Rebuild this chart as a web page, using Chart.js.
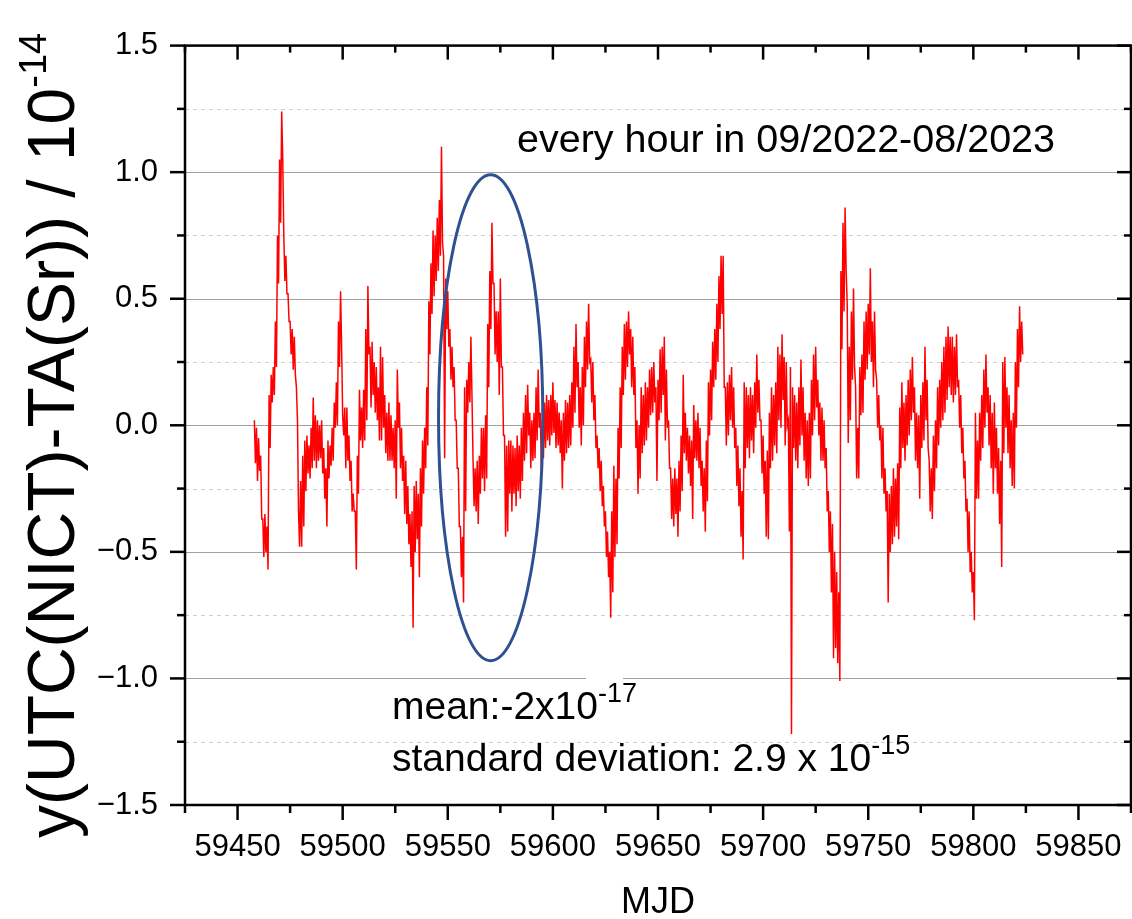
<!DOCTYPE html>
<html>
<head>
<meta charset="utf-8">
<script src="https://cdn.jsdelivr.net/npm/chart.js@4.4.0/dist/chart.umd.min.js"></script>
<style>
  html, body { margin: 0; padding: 0; background: #fff; }
  canvas { display: block; }
</style>
</head>
<body>
<canvas id="myChart" width="1132" height="919"></canvas>
<script>
const mjdStart = 59458;
const dailyHigh = [
  0.02, -0.01, -0.05, -0.12, -0.37, -0.35, -0.40, 0.12, 0.20, 0.23,
  0.41, 0.75, 1.05, 1.24, 0.75, 0.67, 0.52, 0.41, 0.38, 0.35,
  0.15, -0.34, -0.22, -0.12, -0.06, -0.04, -0.08, -0.01, 0.11, 0.04,
  0.02, 0.00, 0.02, -0.09, -0.17, -0.06, -0.08, -0.01, 0.09, 0.17,
  0.41, 0.53, 0.04, 0.07, 0.07, -0.04, -0.14, -0.27, -0.34, -0.12,
  0.14, 0.07, 0.14, 0.38, 0.55, 0.31, 0.33, 0.25, 0.23, 0.15,
  0.31, 0.27, 0.12, 0.05, 0.09, 0.04, -0.01, 0.02, 0.22, 0.09,
  -0.01, -0.12, -0.14, -0.24, -0.35, -0.34, -0.24, -0.22, -0.27, -0.17,
  -0.06, -0.01, 0.15, 0.49, 0.64, 0.77, 0.75, 0.82, 0.89, 1.10,
  0.67, 0.58, 0.53, 0.38, 0.31, 0.23, 0.02, -0.17, -0.40, -0.44,
  0.15, 0.18, 0.25, 0.35, -0.13, -0.17, -0.14, -0.12, -0.01, -0.01,
  0.04, 0.40, 0.61, 0.80, 0.56, 0.45, 0.45, 0.58, 0.23, -0.04,
  -0.08, -0.06, -0.06, -0.08, -0.09, -0.04, -0.08, -0.01, 0.05, 0.12,
  0.16, 0.05, 0.02, 0.05, 0.15, 0.22, 0.05, 0.02, 0.09, 0.12,
  0.10, 0.12, 0.17, 0.10, 0.09, 0.05, 0.02, 0.05, 0.10, 0.09,
  0.12, 0.17, 0.31, 0.40, 0.25, 0.15, 0.23, 0.35, 0.41, 0.48,
  0.26, 0.25, 0.12, -0.04, -0.09, -0.14, -0.24, -0.34, -0.42, -0.50,
  -0.34, -0.16, -0.21, -0.01, 0.15, 0.31, 0.40, 0.41, 0.45, 0.38,
  0.35, 0.23, 0.02, 0.00, 0.15, 0.12, 0.17, 0.15, 0.22, 0.23,
  0.25, 0.15, 0.18, 0.30, 0.31, 0.35, 0.22, 0.02, -0.17, -0.21,
  -0.17, -0.21, -0.14, -0.04, 0.20, 0.05, -0.01, -0.04, -0.06, 0.08,
  0.02, 0.05, -0.01, -0.14, -0.17, -0.06, 0.17, 0.22, 0.33, 0.38,
  0.48, 0.59, 0.67, 0.67, 0.15, 0.17, 0.20, 0.23, 0.15, -0.01,
  -0.08, -0.17, -0.26, 0.17, 0.15, 0.12, 0.15, 0.12, 0.17, 0.28,
  0.18, 0.02, -0.04, -0.14, -0.10, 0.05, 0.15, 0.12, 0.17, 0.31,
  0.28, 0.36, 0.27, 0.25, 0.02, 0.23, 0.15, 0.12, 0.09, 0.15,
  0.26, 0.15, 0.05, 0.02, 0.05, 0.18, 0.28, 0.31, 0.18, 0.09,
  0.07, 0.02, -0.09, -0.26, -0.34, -0.39, -0.50, -0.58, -0.66, 0.61,
  0.80, 0.86, 0.48, 0.31, 0.45, 0.54, 0.15, -0.01, 0.23, 0.28,
  0.41, 0.45, 0.48, 0.62, 0.41, 0.45, 0.18, 0.12, 0.00, -0.01,
  -0.17, -0.26, -0.27, -0.24, -0.17, -0.21, -0.15, 0.07, 0.17, 0.09,
  0.12, 0.18, 0.22, 0.27, 0.15, 0.05, 0.04, 0.12, 0.17, 0.31,
  0.18, -0.14, -0.17, -0.04, 0.02, 0.15, 0.18, 0.25, 0.31, 0.35,
  0.39, 0.35, 0.35, 0.31, 0.36, 0.18, 0.12, -0.01, -0.14, -0.29,
  -0.34, -0.50, -0.58, 0.05, -0.06, 0.05, 0.12, 0.22, 0.28, 0.15,
  0.12, 0.05, 0.09, -0.01, -0.09, -0.14, 0.25, 0.27, 0.15, 0.12,
  0.02, 0.05, 0.25, 0.38, 0.47, 0.41
];
const dailyLow = [
  -0.15, -0.22, -0.18, -0.37, -0.52, -0.50, -0.57, -0.09, 0.09, 0.12,
  0.23, 0.56, 0.80, 1.05, 0.57, 0.52, 0.41, 0.28, 0.22, 0.20,
  0.02, -0.48, -0.48, -0.40, -0.26, -0.19, -0.21, -0.17, -0.14, -0.17,
  -0.14, -0.13, -0.19, -0.29, -0.40, -0.21, -0.16, -0.14, -0.01, 0.00,
  0.23, 0.31, -0.04, -0.17, -0.14, -0.22, -0.34, -0.34, -0.57, -0.27,
  -0.06, -0.09, -0.06, 0.02, 0.28, 0.07, 0.12, 0.05, 0.02, -0.06,
  -0.06, -0.01, -0.11, -0.14, -0.14, -0.14, -0.17, -0.29, -0.01, -0.17,
  -0.22, -0.35, -0.39, -0.47, -0.56, -0.80, -0.50, -0.45, -0.60, -0.40,
  -0.27, -0.17, -0.08, 0.28, 0.44, 0.51, 0.57, 0.61, 0.67, 0.72,
  -0.13, 0.38, 0.31, 0.18, 0.15, 0.02, -0.17, -0.40, -0.60, -0.70,
  -0.34, 0.05, 0.09, 0.12, -0.32, -0.34, -0.39, -0.27, -0.21, -0.26,
  -0.21, 0.15, 0.38, 0.56, 0.28, 0.25, 0.12, 0.23, -0.04, -0.44,
  -0.42, -0.27, -0.34, -0.27, -0.32, -0.26, -0.29, -0.22, -0.14, -0.11,
  -0.04, -0.17, -0.14, -0.13, -0.06, -0.01, -0.17, -0.13, -0.09, -0.06,
  -0.08, -0.04, -0.03, -0.09, -0.08, -0.11, -0.25, -0.14, -0.11, -0.09,
  -0.08, -0.01, 0.05, 0.15, -0.01, -0.08, 0.00, 0.15, 0.22, 0.25,
  0.09, 0.02, -0.09, -0.17, -0.26, -0.32, -0.40, -0.52, -0.60, -0.76,
  -0.66, -0.52, -0.47, -0.21, -0.09, 0.12, 0.18, 0.23, 0.28, 0.15,
  0.12, -0.09, -0.27, -0.21, -0.11, -0.08, -0.06, -0.01, 0.04, 0.05,
  0.09, -0.22, 0.02, 0.05, 0.12, -0.06, -0.01, -0.17, -0.37, -0.40,
  -0.35, -0.44, -0.34, -0.26, -0.11, -0.14, -0.19, -0.24, -0.37, -0.13,
  -0.14, -0.17, -0.24, -0.34, -0.42, -0.30, -0.04, 0.02, 0.15, 0.18,
  0.25, 0.38, 0.44, 0.15, -0.08, -0.04, 0.02, -0.01, -0.09, -0.24,
  -0.32, -0.44, -0.53, -0.17, -0.09, -0.13, -0.06, -0.11, -0.01, 0.05,
  0.02, -0.19, -0.27, -0.44, -0.45, -0.17, -0.14, -0.08, -0.11, 0.02,
  -0.01, 0.10, -0.08, 0.00, -0.42, -1.22, -0.09, -0.14, -0.17, -0.08,
  -0.04, -0.14, -0.21, -0.24, -0.21, -0.04, 0.02, 0.07, -0.04, -0.14,
  -0.14, -0.17, -0.34, -0.50, -0.66, -0.92, -0.88, -0.94, -1.01, 0.30,
  0.45, 0.61, -0.07, 0.02, 0.18, 0.23, -0.21, -0.21, 0.04, 0.05,
  0.18, 0.22, 0.28, 0.25, 0.15, 0.22, -0.01, -0.06, -0.21, -0.27,
  -0.34, -0.70, -0.50, -0.47, -0.44, -0.40, -0.45, -0.17, -0.09, -0.14,
  -0.08, -0.04, 0.02, 0.05, -0.14, -0.17, -0.29, -0.09, -0.06, 0.02,
  -0.09, -0.34, -0.37, -0.26, -0.17, -0.08, -0.01, 0.02, 0.05, 0.10,
  0.15, 0.12, 0.09, 0.12, 0.15, -0.01, -0.11, -0.21, -0.34, -0.50,
  -0.58, -0.66, -0.77, -0.29, -0.29, -0.14, -0.09, -0.01, 0.05, -0.08,
  -0.17, -0.27, -0.17, -0.27, -0.39, -0.56, -0.11, -0.01, -0.11, -0.17,
  -0.24, -0.25, -0.01, 0.15, 0.25, 0.28
];

// axis ticks
const xMajor = [59450, 59500, 59550, 59600, 59650, 59700, 59750, 59800, 59850];
const xMinor = [59425, 59475, 59525, 59575, 59625, 59675, 59725, 59775, 59825, 59875];
const yMajor = [-1.5, -1.0, -0.5, 0.0, 0.5, 1.0, 1.5];
const yMinor = [-1.25, -0.75, -0.25, 0.25, 0.75, 1.25];

// circled region (MJD centre, value centre, half-width in days, half-height)
const ellipseMjd = 59570.4;
const ellipseVal = 0.03;
const ellipseHalfDays = 24.8;
const ellipseHalfVal = 0.96;

const FONT = "'Liberation Sans', Arial, sans-serif";

const points = [];
dailyHigh.forEach((h, i) => {
    points.push({ x: mjdStart + i, y: h });
    points.push({ x: mjdStart + i + 0.5, y: dailyLow[i] });
});

function textWithSup(ctx, x, y, main, sup, size, supSize, rise) {
    ctx.font = size + 'px ' + FONT;
    ctx.fillText(main, x, y);
    const w = ctx.measureText(main).width;
    ctx.font = supSize + 'px ' + FONT;
    ctx.fillText(sup, x + w, y - rise);
}

const decor = {
    id: 'decor',
    beforeDatasetsDraw(chart) {
        const { ctx, chartArea: a, scales: { y } } = chart;
        ctx.save();
        ctx.lineWidth = 1;
        ctx.strokeStyle = '#cfcfcf';
        ctx.setLineDash([4, 4]);
        yMinor.forEach(v => {
            const py = Math.round(y.getPixelForValue(v)) + 0.5;
            ctx.beginPath(); ctx.moveTo(a.left, py); ctx.lineTo(a.right, py); ctx.stroke();
        });
        ctx.setLineDash([]);
        ctx.strokeStyle = '#a0a0a0';
        yMajor.slice(1, -1).forEach(v => {
            const py = Math.round(y.getPixelForValue(v)) + 0.5;
            ctx.beginPath(); ctx.moveTo(a.left, py); ctx.lineTo(a.right, py); ctx.stroke();
        });
        ctx.restore();
    },
    afterDraw(chart) {
        const { ctx, chartArea: a, scales: { x, y } } = chart;
        ctx.save();

        // circle around the highlighted stretch
        const cx = x.getPixelForValue(ellipseMjd);
        const cy = y.getPixelForValue(ellipseVal);
        const rx = x.getPixelForValue(ellipseMjd + ellipseHalfDays) - cx;
        const ry = cy - y.getPixelForValue(ellipseVal + ellipseHalfVal);
        ctx.strokeStyle = '#2f5190';
        ctx.lineWidth = 3;
        ctx.beginPath();
        ctx.ellipse(cx, cy, rx, ry, 0, 0, Math.PI * 2);
        ctx.stroke();

        // frame
        ctx.strokeStyle = '#000';
        ctx.lineWidth = 2.5;
        ctx.strokeRect(a.left, a.top, a.right - a.left, a.bottom - a.top);

        // tick marks
        const tick = (x1, y1, x2, y2) => { ctx.beginPath(); ctx.moveTo(x1, y1); ctx.lineTo(x2, y2); ctx.stroke(); };
        xMajor.forEach(v => {
            const px = x.getPixelForValue(v);
            tick(px, a.bottom, px, a.bottom + 15);
            tick(px, a.top, px, a.top + 14);
        });
        xMinor.forEach(v => {
            const px = x.getPixelForValue(v);
            tick(px, a.bottom, px, a.bottom + 8);
            tick(px, a.top, px, a.top + 7);
        });
        yMajor.forEach(v => {
            const py = y.getPixelForValue(v);
            tick(a.left, py, a.left - 15, py);
            tick(a.right, py, a.right - 14, py);
        });
        yMinor.forEach(v => {
            const py = y.getPixelForValue(v);
            tick(a.left, py, a.left - 8, py);
            tick(a.right, py, a.right - 7, py);
        });

        // annotations
        ctx.fillStyle = '#fff';
        ctx.fillRect(586, 672, 37, 12);
        ctx.fillStyle = '#000';
        ctx.textBaseline = 'alphabetic';
        ctx.textAlign = 'left';
        ctx.font = '39.5px ' + FONT;
        ctx.fillText('every hour in 09/2022-08/2023', 517, 152);
        textWithSup(ctx, 392, 719, 'mean:-2x10', '-17', 39, 27, 17);
        textWithSup(ctx, 392, 771, 'standard deviation: 2.9 x 10', '-15', 39, 27, 17);

        // axis titles
        ctx.font = '36px ' + FONT;
        ctx.textAlign = 'center';
        ctx.fillText('MJD', (a.left + a.right) / 2, 913);
        ctx.textAlign = 'left';
        ctx.translate(74, 838);
        ctx.rotate(-Math.PI / 2);
        textWithSup(ctx, 0, 0, 'y(UTC(NICT)-TA(Sr)) / 10', '-14', 66, 38, 28);
        ctx.restore();
    }
};

const ctx = document.getElementById('myChart').getContext('2d');
const myChart = new Chart(ctx, {
    type: 'line',
    data: {
        datasets: [{
            data: points,
            borderColor: '#ff0000',
            borderWidth: 1.5,
            pointRadius: 0,
            fill: false,
            tension: 0
        }]
    },
    options: {
        responsive: false,
        animation: false,
        parsing: false,
        normalized: true,
        layout: { padding: { top: 43, right: 1, left: 0, bottom: 0 } },
        plugins: { legend: { display: false }, tooltip: { enabled: false } },
        scales: {
            x: {
                type: 'linear',
                min: 59425,
                max: 59875,
                afterFit: s => { s.height = 114; s.paddingLeft = 0; s.paddingRight = 0; },
                grid: { display: false, drawTicks: false },
                border: { display: false },
                ticks: {
                    stepSize: 25,
                    autoSkip: false,
                    maxRotation: 0,
                    padding: 24,
                    color: '#000',
                    font: { family: FONT, size: 31 },
                    callback: v => (v % 50 === 0 ? String(v) : '')
                }
            },
            y: {
                min: -1.5,
                max: 1.5,
                afterFit: s => { s.width = 185; },
                grid: { display: false, drawTicks: false },
                border: { display: false },
                ticks: {
                    stepSize: 0.25,
                    autoSkip: false,
                    padding: 27,
                    color: '#000',
                    font: { family: FONT, size: 31 },
                    callback: v => (Math.abs(v * 2 - Math.round(v * 2)) < 1e-6 ? v.toFixed(1).replace('-', '\u2212') : '')
                }
            }
        }
    },
    plugins: [decor]
});
</script>
</body>
</html>
